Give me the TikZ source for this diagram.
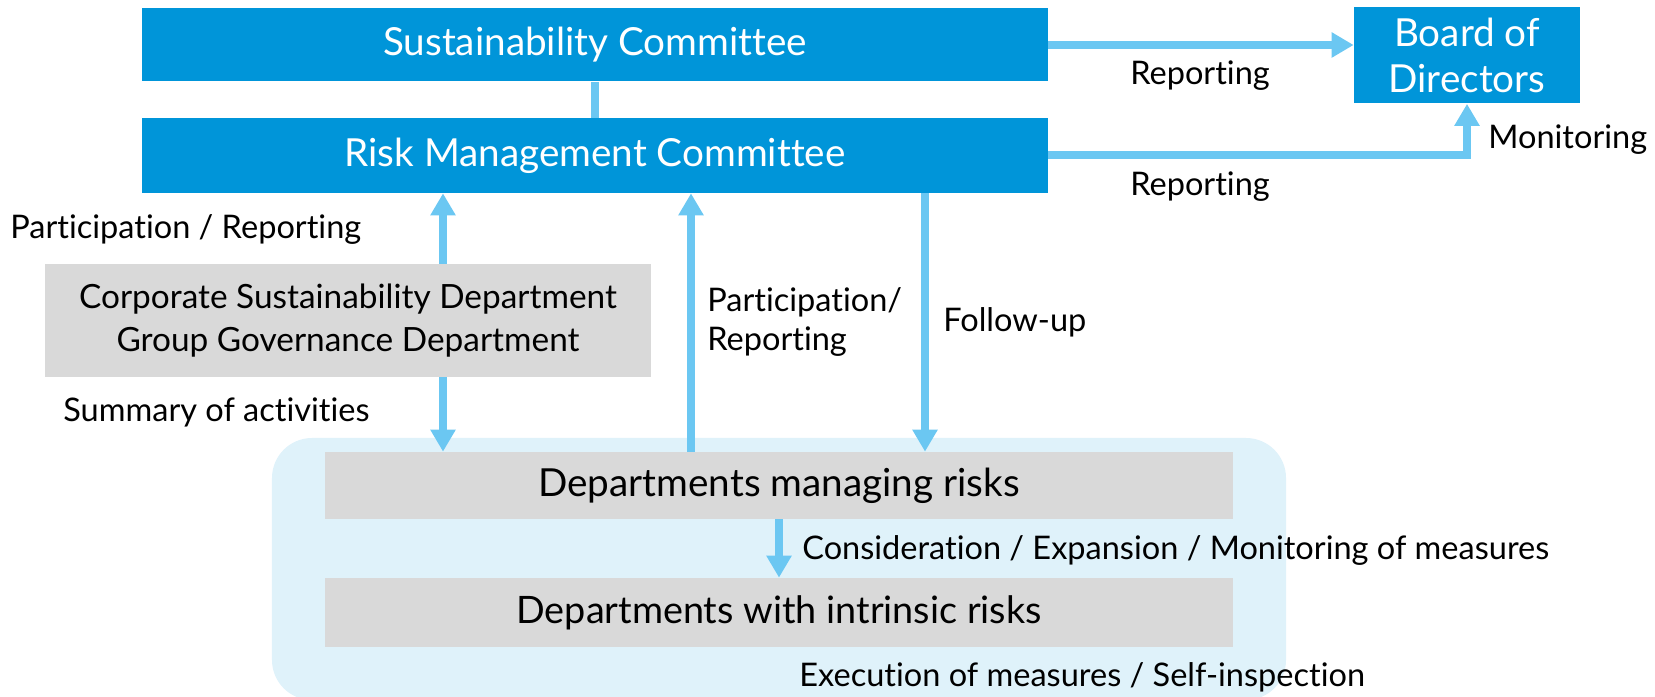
\documentclass[tikz,border=0pt]{standalone}
\usepackage{fontspec}
\setmainfont{Lato}[Ligatures={NoCommon}]
\usepackage{tikz}
\usetikzlibrary{arrows.meta, positioning, calc}
\definecolor{boxblue}{RGB}{0,149,217}
\definecolor{arrowblue}{RGB}{107,199,242}
\definecolor{boxgray}{RGB}{217,217,217}
\definecolor{zonecol}{RGB}{223,242,250}

\begin{document}
\begin{tikzpicture}[
  x=0.2mm, y=-0.2mm,
  bluebox/.style={rectangle, fill=boxblue, text=white, inner sep=0pt,
                  align=center, font=\fontsize{22}{26}\selectfont},
  graybox/.style={rectangle, fill=boxgray, inner sep=0pt, align=center},
  lbl/.style={inner sep=0pt, align=left, font=\fontsize{18.5}{22}\selectfont},
  arr/.style={line width=1.6mm, arrowblue,
              -{Triangle[width=4.8mm, length=4.4mm]}},
  link/.style={line width=1.6mm, arrowblue},
]
\useasboundingbox (0,0) rectangle (1655,697);

% committees and board
\node[bluebox, minimum width=181.2mm, minimum height=14.6mm] (SC) at (595,45)
  {Sustainability Committee};
\node[bluebox, minimum width=181.2mm, minimum height=15mm] (RMC) at (595,155.5)
  {Risk Management Committee};
\node[bluebox, minimum width=45.2mm, minimum height=19.2mm] (Board) at (1467,55.5)
  {Board of\\Directors};

% departments
\node[graybox, minimum width=121.2mm, minimum height=22.6mm,
      font=\fontsize{19}{24}\selectfont] (CSD) at (348,320.5)
  {Corporate Sustainability Department\\Group Governance Department};
\node[rectangle, fill=zonecol, rounded corners=8mm, minimum width=202.8mm,
      minimum height=52.4mm] (zone) at (779,569) {};
\node[graybox, minimum width=181.6mm, minimum height=13.4mm,
      font=\fontsize{22}{26}\selectfont] (DMR) at (779,485.5)
  {Departments managing risks};
\node[graybox, minimum width=181.6mm, minimum height=13.8mm,
      font=\fontsize{21.5}{26}\selectfont] (DIR) at (779,612.5)
  {Departments with intrinsic risks};

% labels
\node[lbl] (rep1) at (1200,76) {Reporting};
\node[lbl] (rep2) at (1200,187) {Reporting};
\node[lbl, anchor=west] (mon) at (1488,140) {Monitoring};
\node[lbl, anchor=west] (partrep) at (10,229) {Participation / Reporting};
\node[lbl, anchor=west] (summ) at (63,412) {Summary of activities};
\node[lbl, anchor=west] (partrep2) at (707,322) {Participation/\\Reporting};
\node[lbl, anchor=west] (follow) at (943,322) {Follow-up};
\node[lbl, anchor=west] (consid) at (802,550)
  {Consideration / Expansion / Monitoring of measures};
\node[lbl, anchor=west] (exec) at (799,677)
  {Execution of measures / Self-inspection};

% connectors
\coordinate (csdx) at (443,0);
\coordinate (upx) at (691,0);
\coordinate (fux) at (925,0);
\draw[link] (SC.south) -- (RMC.north);
\draw[arr] (SC.east) -- (SC.east -| Board.west);
\draw[arr] (RMC.east) -| (Board.south);
\draw[arr] (CSD.north -| csdx) -- (RMC.south -| csdx);
\draw[arr] (CSD.south -| csdx) -- (DMR.north -| csdx);
\draw[arr] (DMR.north -| upx) -- (RMC.south -| upx);
\draw[arr] (RMC.south -| fux) -- (DMR.north -| fux);
\draw[arr] (DMR.south) -- (DIR.north);
\end{tikzpicture}
\end{document}
